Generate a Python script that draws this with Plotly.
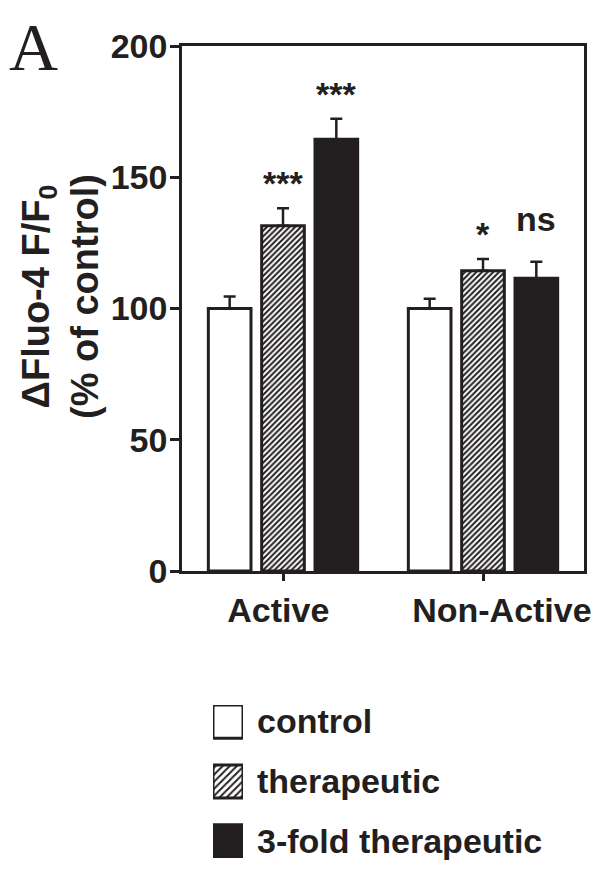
import plotly.graph_objects as go

# ---- data ----
categories = ["Active", "Non-Active"]
tick_text = ["Active\u00a0", "\u00a0\u00a0\u00a0\u00a0Non-Active"]
series_names = ["control", "therapeutic", "3-fold therapeutic"]
control_vals = [100.0, 100.0]
control_err = [4.6, 3.7]
therapeutic_vals = [131.5, 114.4]
therapeutic_err = [6.7, 4.5]
threefold_vals = [164.5, 111.5]
threefold_err = [7.8, 6.3]
therapeutic_sig = ["***", "*"]
threefold_sig = ["***", "ns"]
y_ticks = [0, 50, 100, 150, 200]

INK = "#231f20"
FONT = "Liberation Sans"

OFF = 8  # page body margin in the browser
W, H = 601 - OFF, 869 - OFF


def fx(px):  # screen x pixel -> figure x pixel
    return px - OFF


def fy(px):
    return px - OFF


ML = fx(182)
MT = fy(46)
MR = W - fx(584)
MB = H - fy(858)
plot_w = W - ML - MR
plot_h = H - MT - MB
x_range = [-0.505, 1.505]
bargap, bargroupgap = 0.2, 0.2
px_per_unit = plot_w / (x_range[1] - x_range[0])
slot_px = (1 - bargap) / 3 * px_per_unit


def py(screen_y):  # screen y -> paper fraction
    return (H - MB - fy(screen_y)) / plot_h


def pxp(screen_x):
    return (fx(screen_x) - ML) / plot_w


ydom0 = py(571)
ydom_leg = [py(858), py(705)]

styles = [
    dict(color="white", pattern=None),
    dict(color="white", pattern=dict(shape="/", fgcolor=INK, bgcolor="white", size=4, solidity=0.5)),
    dict(color=INK, pattern=None),
]
vals = [control_vals, therapeutic_vals, threefold_vals]
errs = [control_err, therapeutic_err, threefold_err]

fig = go.Figure()
for name, v, e, st in zip(series_names, vals, errs, styles):
    marker = dict(color=st["color"], line=dict(color=INK, width=3))
    if st["pattern"]:
        marker["pattern"] = st["pattern"]
    fig.add_trace(go.Bar(
        x=categories, y=v, name=name, marker=marker, showlegend=False,
        error_y=dict(type="data", array=e, arrayminus=[0] * len(e), symmetric=False,
                     color=INK, thickness=2.5, width=6),
        xaxis="x", yaxis="y",
    ))

# legend swatches drawn as bars on a small auxiliary axis
leg_styles = [
    dict(color="white", pattern=None),
    dict(color="white", pattern=dict(shape="/", fgcolor=INK, bgcolor="white", size=5, solidity=0.4)),
    dict(color=INK, pattern=None),
]
for name, st in zip(series_names, leg_styles):
    marker = dict(color=st["color"], line=dict(color=INK, width=3))
    if st["pattern"]:
        marker["pattern"] = st["pattern"]
    fig.add_trace(go.Bar(
        y=[name], x=[1], orientation="h", width=0.555, marker=marker,
        showlegend=False, xaxis="x2", yaxis="y2", hoverinfo="skip",
    ))

# significance labels
annotations = []
for i, (sigs, v, e) in enumerate([(therapeutic_sig, therapeutic_vals, therapeutic_err),
                                   (threefold_sig, threefold_vals, threefold_err)]):
    offset = i * slot_px  # therapeutic is centre trace, 3-fold is one slot right
    for cat, s, vv, ee in zip(categories, sigs, v, e):
        annotations.append(dict(
            x=cat, y=vv + ee, xref="x", yref="y", text=s, showarrow=False,
            xshift=offset, yshift=(4 if "*" in s else 22), yanchor="bottom",
            font=dict(family=FONT, size=34, color=INK, weight="bold"),
        ))

# y-axis title
annotations.append(dict(
    text="ΔFluo-4 F/F<sub>0</sub><br>(% of control)", textangle=-90,
    x=pxp(60), y=py(297), xref="paper", yref="paper",
    xanchor="center", yanchor="middle", showarrow=False,
    font=dict(family=FONT, size=38, color=INK, weight="bold"),
))
# panel letter
annotations.append(dict(
    text="A", x=pxp(8), y=py(8), xref="paper", yref="paper",
    xanchor="left", yanchor="top", showarrow=False, borderpad=0,
    font=dict(family="Liberation Serif", size=68, color=INK),
))

fig.update_layout(
    template=None,
    width=W, height=H,
    margin=dict(l=ML, r=MR, t=MT, b=MB, autoexpand=False),
    paper_bgcolor="white", plot_bgcolor="white",
    barmode="group", bargap=bargap, bargroupgap=bargroupgap,
    annotations=annotations,
    xaxis=dict(
        type="category", categoryorder="array", categoryarray=categories,
        range=x_range, domain=[0, 1], anchor="y", automargin=False,
        tickvals=categories, ticktext=tick_text,
        showline=True, linecolor=INK, linewidth=2.5, mirror=True,
        ticks="outside", ticklen=7, tickwidth=2.5, tickcolor=INK,
        showgrid=False, zeroline=False,
        tickfont=dict(family=FONT, size=34, color=INK, weight="bold"),
    ),
    yaxis=dict(
        range=[0, 200], domain=[ydom0, 1], anchor="x", automargin=False,
        tickvals=y_ticks,
        showline=True, linecolor=INK, linewidth=2.5, mirror=True,
        ticks="outside", ticklen=9, tickwidth=2.5, tickcolor=INK,
        ticklabelstandoff=-4,
        showgrid=False, zeroline=False,
        tickfont=dict(family=FONT, size=34, color=INK, weight="bold"),
    ),
    xaxis2=dict(
        domain=[pxp(213), pxp(243)], range=[0, 1],
        anchor="y2", visible=False, fixedrange=True, automargin=False,
    ),
    yaxis2=dict(
        type="category", categoryorder="array", categoryarray=series_names,
        domain=ydom_leg, range=[2.277, -0.277], anchor="x2", side="right",
        showline=False, ticks="", showgrid=False, zeroline=False, automargin=False,
        ticklabelstandoff=13,
        tickfont=dict(family=FONT, size=34, color=INK, weight="bold"),
    ),
)

fig.write_html("out.html")
